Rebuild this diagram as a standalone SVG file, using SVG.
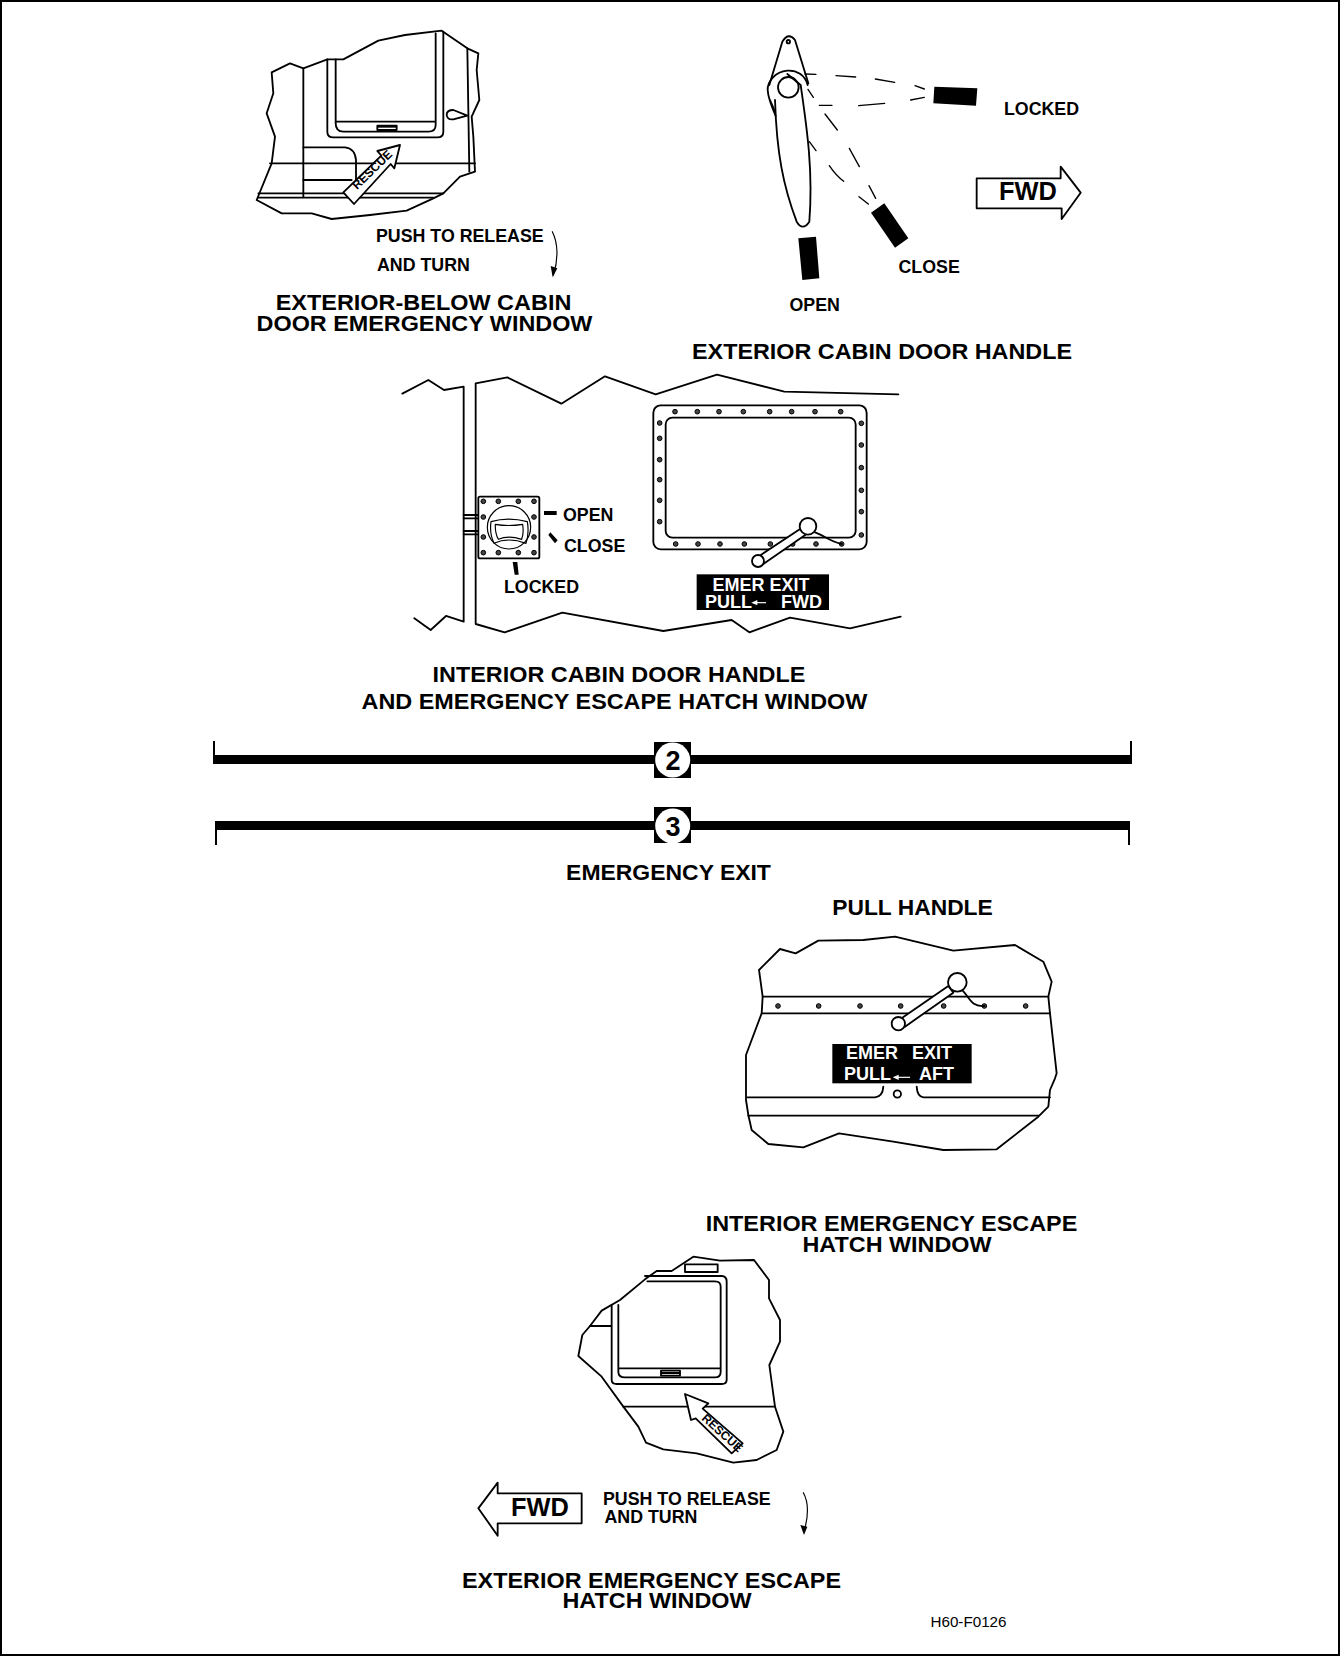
<svg xmlns="http://www.w3.org/2000/svg" width="1340" height="1656" viewBox="0 0 1340 1656">
<style>
.l{fill:none;stroke:#000;stroke-width:5.500;stroke-linejoin:round;stroke-linecap:round}
.w{fill:#fff;stroke:#000;stroke-width:5.500;stroke-linejoin:round}
.t{fill:none;stroke:#000;stroke-width:4;stroke-linecap:round}
.k{fill:#000;stroke:none}
.r{fill:#444;stroke:#000;stroke-width:3}
.rv circle{r:7px}
text{font-family:"Liberation Sans",Arial,sans-serif;font-weight:bold;fill:#000}
.h{font-size:22.400px;text-anchor:middle}
.s{font-size:17.800px}
.wt{fill:#fff;font-size:18px}
.rs{font-size:36px}
</style>
<rect x="1" y="1" width="1338" height="1654" fill="#fff" stroke="#000" stroke-width="2"/>

<g id="exterior-below-window">
<g transform="translate(240 20) scale(.33333)">
<path class="l" d="M95,157 150,130 190,145 262,118 310,118 415,62 495,45 605,32 682,85 715,100 710,150 718,240 695,290 700,350 705,455 660,470 610,520 580,535 500,572 390,585 275,597 215,580 125,580 50,540 95,430 105,350 80,280 100,220Z"/>
<path class="l" d="M190,145V530M682,85 688,455M262,118V335Q262,352 280,352H592Q610,352 610,335V35M287,118V310Q287,335 310,335H565Q587,335 587,315V40M287,305H587"/>
<path class="l" d="M90,430H705M190,382H315Q345,385 348,420V480M190,480H335M55,520H610M55,533H580"/>
<path class="l" d="M682,287 640,270Q620,270 620,285Q622,300 640,298Z"/>
<rect x="412" y="317" width="58" height="13" class="w"/><rect class="k" x="412" y="317" width="58" height="6"/>
<path class="w" d="M480,375 412,393 424,407 310,517 342,552 452,432 463,445Z"/>
<text class="rs" transform="translate(351 510) rotate(-44)">RESCUE</text>
<path class="l" style="stroke-width:3.500" d="M937,635C955,670 955,720 940,765"/>
<path class="k" d="M938,772 932,738 952,745Z"/>
</g>
<text class="s" x="376" y="241.500">PUSH TO RELEASE</text>
<text class="s" x="377" y="270.500">AND TURN</text>
<text class="h"><tspan x="423.500" y="309.500" textLength="295.700" lengthAdjust="spacingAndGlyphs">EXTERIOR-BELOW CABIN</tspan><tspan x="424.500" y="330.500" textLength="335.800" lengthAdjust="spacingAndGlyphs">DOOR EMERGENCY WINDOW</tspan></text>
</g>

<g id="exterior-handle">
<g transform="translate(730 20) scale(.33333)">
<path class="l" d="M118,195 157,65Q175,35 195,60L235,190"/>
<circle class="l" cx="175" cy="65" r="5"/>
<path class="l" d="M233,195C225,165 200,150 172,152C135,155 112,185 113,210C114,230 125,260 137,288M120,240 135,275"/>
<circle class="l" cx="175" cy="202" r="31"/>
<path class="l" d="M172,162 212,195C230,320 250,450 238,605Q218,635 200,605C160,500 140,400 135,240"/>
<path class="k" d="M613,200 742,205 738,257 610,250ZM423,578 463,550 535,655 495,683ZM205,655 258,650 268,775 217,780Z"/>
<path class="t" d="M225,162 258,163M318,167 377,171M436,177 494,187M555,197 583,207M268,256H306M386,257 464,250M542,240 583,232M234,208 250,232M285,282 322,330M358,385 388,440M417,497 437,535M238,365 258,392M298,437C310,455 325,472 341,484M387,530 415,552"/>
<path class="w" d="M740,475H992V440L1052,518 995,597V565H740Z"/>
</g>
<text x="1004" y="115" class="s">LOCKED</text>
<text x="898.500" y="273" class="s">CLOSE</text>
<text x="789.500" y="310.500" class="s">OPEN</text>
<text x="999" y="200" style="font-size:25.400px">FWD</text>
<text class="h" x="882" y="358.500" textLength="380" lengthAdjust="spacingAndGlyphs">EXTERIOR CABIN DOOR HANDLE</text>
</g>

<g id="interior-door-hatch">
<g transform="translate(390 370) scale(.33333)">
<path class="l" d="M37,71 115,30 162,60 221,50V755L168,738 122,780 73,745M257,40 352,22 514,101 645,19 797,73 981,14 1183,65 1525,73M257,40V762L344,787 517,728 820,783 1025,750 1078,787 1200,743 1380,775 1532,740"/>
<path class="l" d="M221,435H265M221,445H265M221,483H265M221,493H265"/>
<rect class="w" x="265" y="380" width="183" height="185" rx="5"/>
<circle class="l" cx="357" cy="472" r="65" style="stroke-width:3.500"/>
<path class="l" d="M303,455Q355,440 412,455Q418,490 408,520Q355,500 312,520Q298,490 303,455ZM316,463Q355,470 398,463Q402,490 395,508Q355,495 325,508Q315,490 316,463Z" style="stroke-width:3.500"/>
<g class="r rv">
<circle cx="280" cy="394" r="7"/><circle cx="325" cy="394" r="7"/><circle cx="385" cy="394" r="7"/><circle cx="432" cy="394" r="7"/>
<circle cx="280" cy="441" r="7"/><circle cx="432" cy="441" r="7"/><circle cx="280" cy="501" r="7"/><circle cx="432" cy="501" r="7"/>
<circle cx="280" cy="548" r="7"/><circle cx="325" cy="548" r="7"/><circle cx="385" cy="548" r="7"/><circle cx="432" cy="548" r="7"/>
</g>
<path class="k" d="M462,423H500V435H462ZM475,495 481,487 503,511 495,520ZM368,576H382L386,614H374Z"/>
<rect class="w" x="790" y="106" width="640" height="432" rx="22"/>
<rect class="l" x="827" y="143" width="570" height="360" rx="20"/>
<g class="r rv">
<circle cx="855" cy="125" r="7"/><circle cx="922" cy="125" r="7"/><circle cx="987" cy="125" r="7"/><circle cx="1060" cy="125" r="7"/><circle cx="1139" cy="125" r="7"/><circle cx="1205" cy="125" r="7"/><circle cx="1275" cy="125" r="7"/><circle cx="1352" cy="125" r="7"/>
<circle cx="809" cy="159" r="7"/><circle cx="809" cy="205" r="7"/><circle cx="809" cy="269" r="7"/><circle cx="809" cy="329" r="7"/><circle cx="809" cy="391" r="7"/><circle cx="809" cy="455" r="7"/>
<circle cx="1414" cy="160" r="7"/><circle cx="1414" cy="225" r="7"/><circle cx="1414" cy="293" r="7"/><circle cx="1414" cy="361" r="7"/><circle cx="1414" cy="425" r="7"/><circle cx="1414" cy="495" r="7"/>
<circle cx="857" cy="522" r="7"/><circle cx="924" cy="522" r="7"/><circle cx="990" cy="522" r="7"/><circle cx="1063" cy="522" r="7"/><circle cx="1141" cy="522" r="7"/><circle cx="1208" cy="522" r="7"/><circle cx="1278" cy="522" r="7"/><circle cx="1355" cy="522" r="7"/>
</g>
<path class="l" d="M1275,487C1300,495 1320,515 1355,522"/>
<path class="w" d="M1108,558 1236,473 1250,492 1120,582Z"/>
<circle class="w" cx="1104" cy="573" r="18"/>
<circle class="w" cx="1254" cy="469" r="25"/>
<rect class="k" x="920" y="613" width="397" height="107"/>
<path d="M1128,698H1095" stroke="#fff" stroke-width="3.500"/><path d="M1084,698 1102,690V706Z" fill="#fff"/>
</g>
<text class="s" x="563" y="520.500">OPEN</text>
<text class="s" x="564" y="551.500">CLOSE</text>
<text class="s" x="504" y="592.500">LOCKED</text>
<text class="wt" x="761" y="590.500" text-anchor="middle">EMER EXIT</text>
<text class="wt" x="705" y="607.500">PULL</text>
<text class="wt" x="781" y="607.500">FWD</text>
<text class="h"><tspan x="619" y="681.500" textLength="372.800" lengthAdjust="spacingAndGlyphs">INTERIOR CABIN DOOR HANDLE</tspan><tspan x="614.500" y="708.500" textLength="505.800" lengthAdjust="spacingAndGlyphs">AND EMERGENCY ESCAPE HATCH WINDOW</tspan></text>
</g>

<g id="callout-2">
<path class="k" d="M213,755H1132V764H213ZM654,742H691V778H654Z"/>
<path d="M214,741V755M1131,741V755" stroke="#000" stroke-width="2"/>
<circle cx="672.700" cy="760" r="17.500" fill="#fff"/>
<text x="673" y="769.500" text-anchor="middle" style="font-size:27px">2</text>
</g>
<g id="callout-3">
<path class="k" d="M215,821H1130V830H215ZM654,807H691V843H654Z"/>
<path d="M216,830V845M1129,830V845" stroke="#000" stroke-width="2"/>
<circle cx="672.700" cy="826" r="17.500" fill="#fff"/>
<text x="673" y="836" text-anchor="middle" style="font-size:27px">3</text>
</g>
<text id="emergency-exit" class="h" x="668.500" y="879.500" textLength="204.800" lengthAdjust="spacingAndGlyphs">EMERGENCY EXIT</text>

<g id="interior-hatch">
<text class="h" x="912.500" y="914.500" textLength="160.500" lengthAdjust="spacingAndGlyphs">PULL HANDLE</text>
<g transform="translate(740 920) scale(.33333)">
<path class="l" d="M57,150 120,87 167,100 235,62 370,60 465,50 640,92 825,75 910,125 935,185 925,230 930,280 950,460 945,475 930,510 925,560 895,590 770,688 610,690 460,665 297,640 190,682 85,672 35,630 25,585 18,540 18,405 65,280 68,230Z"/>
<path class="l" d="M68,230H925M65,280H930M22,532H405Q428,530 430,500M530,500Q532,530 550,532H930M25,587H895"/>
<g class="r rv"><circle cx="114" cy="258" r="7"/><circle cx="236" cy="258" r="7"/><circle cx="360" cy="258" r="7"/><circle cx="482" cy="258" r="7"/><circle cx="611" cy="258" r="7"/><circle cx="733" cy="258" r="7"/><circle cx="857" cy="258" r="7"/></g>
<path class="l" d="M668,212C690,235 695,262 733,258"/>
<path class="w" d="M480,298 625,198 640,218 495,320Z"/>
<circle class="w" cx="475" cy="311" r="20"/>
<circle class="w" cx="652" cy="187" r="28"/>
<rect class="k" x="277" y="372" width="418" height="118"/>
<path d="M510,472H470" stroke="#fff" stroke-width="3.500"/><path d="M458,472 476,464V480Z" fill="#fff"/>
<circle class="l" cx="472" cy="522" r="11"/>
</g>
<text class="wt" x="846" y="1058.500">EMER</text>
<text class="wt" x="912" y="1058.500">EXIT</text>
<text class="wt" x="844" y="1079.500">PULL</text>
<text class="wt" x="919" y="1079.500">AFT</text>
<text class="h"><tspan x="891.500" y="1230.500" textLength="371.700" lengthAdjust="spacingAndGlyphs">INTERIOR EMERGENCY ESCAPE</tspan><tspan x="897" y="1252" textLength="189" lengthAdjust="spacingAndGlyphs">HATCH WINDOW</tspan></text>
</g>

<g id="exterior-hatch">
<g transform="translate(560 1240) scale(.33333)">
<path class="l" d="M55,348 67,285 90,258 125,212 180,180 255,118 290,93 335,93 400,50 480,62 582,60 627,120 627,175 660,240 660,305 628,375 645,500 670,575 650,630 590,660 520,668 410,640 310,628 258,608 235,560 190,500 125,410Z"/>
<path class="l" d="M375,73H473V96H375ZM90,258H155M155,195V420Q155,432 170,432H485Q500,432 500,420V125Q500,108 485,108H255M175,195V395Q175,412 195,412H465Q482,412 482,395V140Q482,124 465,124H262M175,385H482M190,500H645"/>
<rect class="l" x="303" y="392" width="57" height="15"/>
<path class="k" d="M303,396H360V402H303Z"/>
<path class="w" d="M375,462 445,490 428,506 548,610 515,640 407,535 393,540Z"/>
<text class="rs" transform="translate(423 538) rotate(42)">RESCUE</text>
</g>
<g transform="translate(460 1460) scale(.33333)">
<path class="w" d="M365,100H113V68L55,145 113,227V190H365Z"/>
<path class="l" style="stroke-width:3.500" d="M1030,98C1048,130 1045,170 1032,215"/>
<path class="k" d="M1032,225 1021,195 1042,200Z"/>
</g>
<text x="511" y="1516" style="font-size:25.400px">FWD</text>
<text class="s"><tspan x="603" y="1504.500">PUSH TO RELEASE</tspan><tspan x="604.500" y="1523">AND TURN</tspan></text>
<text class="h"><tspan x="651.500" y="1587.500" textLength="379" lengthAdjust="spacingAndGlyphs">EXTERIOR EMERGENCY ESCAPE</tspan><tspan x="657" y="1608" textLength="189" lengthAdjust="spacingAndGlyphs">HATCH WINDOW</tspan></text>
</g>
<text id="figure-id" x="930.500" y="1627" style="font-size:15.200px;font-weight:normal">H60-F0126</text>
</svg>
